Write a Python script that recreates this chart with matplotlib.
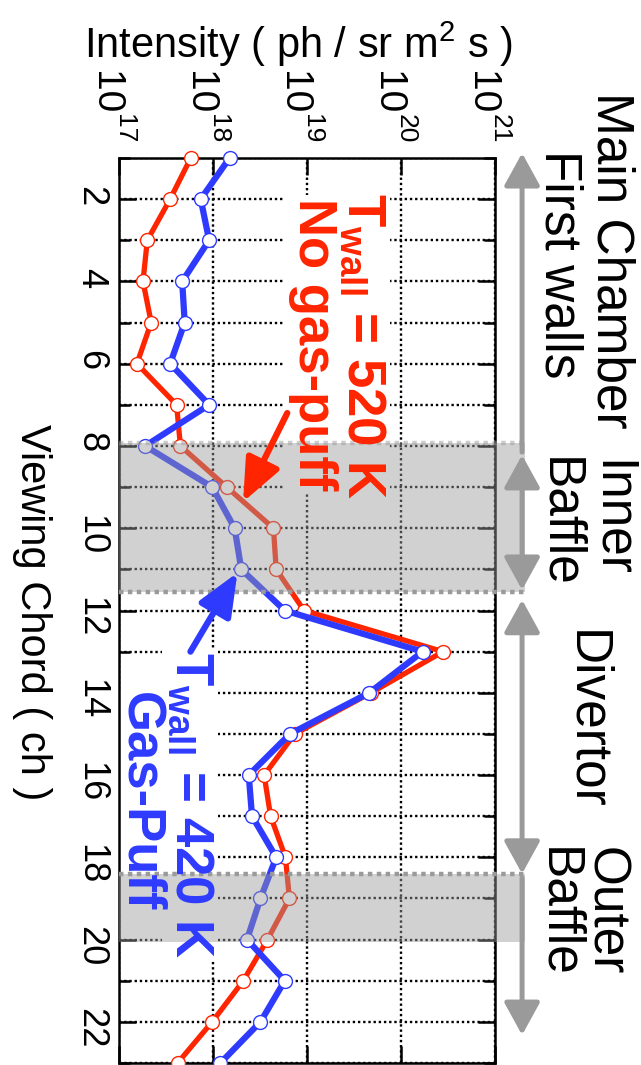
import numpy as np
import matplotlib
matplotlib.use("Agg")
import matplotlib.pyplot as plt
from matplotlib.patches import Rectangle
from matplotlib.ticker import NullLocator, NullFormatter
from matplotlib import font_manager

plt.rcParams['font.family'] = ['Liberation Sans', 'DejaVu Sans']
plt.rcParams['mathtext.fontset'] = 'custom'
plt.rcParams['mathtext.rm'] = 'Liberation Sans'
plt.rcParams['mathtext.bf'] = 'Liberation Sans:bold'
plt.rcParams['mathtext.it'] = 'Liberation Sans:italic'

# Viewing chord number and line intensity (ph / sr m^2 s)
chords = np.arange(1, 24)
i_520K = [5.8e17, 3.5e17, 2.0e17, 1.8e17, 2.2e17, 1.55e17, 4.1e17, 4.5e17,
          1.4e18, 4.4e18, 4.7e18, 9.3e18, 2.8e20, 4.8e19, 7.4e18, 3.5e18,
          4.1e18, 5.9e18, 6.5e18, 3.8e18, 2.1e18, 9.8e17, 4.2e17]
i_420K = [1.5e18, 7.4e17, 9.1e17, 4.7e17, 5.0e17, 3.5e17, 9.1e17, 1.9e17,
          9.8e17, 1.7e18, 2.0e18, 5.8e18, 1.7e20, 4.6e19, 6.6e18, 2.4e18,
          2.6e18, 4.7e18, 3.2e18, 2.3e18, 5.8e18, 3.2e18, 1.2e18]
exponents = [17, 18, 19, 20, 21]

inner_baffle = (7.92, 11.55)
outer_baffle = (18.4, 20.07)

red = '#ff2500'
blue = '#2e3bff'
grey = '#9a9a9a'

fig = plt.figure(figsize=(6.41, 10.65), dpi=100)
W, H = 641, 1065
ax = fig.add_axes([119/W, 1-1063/H, (495-119)/W, (1063-158)/H])

ax.plot(i_520K, chords, '-o', color=red, lw=3.8, ms=10, mfc='white', mec=red, mew=1.0, zorder=3, clip_on=False)
ax.plot(i_420K, chords, '-o', color=blue, lw=4.5, ms=10, mfc='white', mec=blue, mew=1.0, zorder=4, clip_on=False)

ax.set_xscale('log')
ax.set_xlim(1e17, 1e21)
ax.set_ylim(23, 1)
ax.set_xticks([10.0**e for e in exponents])
ax.xaxis.set_minor_locator(NullLocator())
ax.xaxis.set_major_formatter(NullFormatter())
ax.set_yticks(range(2, 23, 2))
ax.set_yticks(range(1, 24, 2), minor=True)

ax.xaxis.set_ticks_position('both')
ax.yaxis.set_ticks_position('both')
ax.tick_params(axis='x', which='major', direction='in', length=12, width=1.8)
ax.tick_params(axis='y', which='major', direction='in', length=12, width=1.8,
               labelrotation=-90, labelsize=26, pad=8)
ax.tick_params(axis='y', which='minor', direction='in', length=8, width=1.8)
ax.grid(axis='x', which='major', color='black', lw=1.7, ls=(0, (1, 1.2)))
ax.grid(axis='y', which='both', color='black', lw=1.7, ls=(0, (1, 1.2)))
for s in ax.spines.values():
    s.set_linewidth(1.8)

# top tick labels: rotated 10 with exponent
xtr = ax.get_xaxis_transform()
for e in exponents:
    ax.annotate('10', xy=(10.0**e, 1), xycoords=xtr, xytext=(-17, 31.5),
                textcoords='offset points', rotation=-90, rotation_mode='anchor',
                ha='right', va='baseline', fontsize=28, annotation_clip=False)
    ax.annotate(str(e), xy=(10.0**e, 1), xycoords=xtr, xytext=(-1.5, 31.5),
                textcoords='offset points', rotation=-90, rotation_mode='anchor',
                ha='left', va='baseline', fontsize=19, annotation_clip=False)

# shaded baffle regions
tr = ax.get_yaxis_transform()
for lo, hi in [inner_baffle, outer_baffle]:
    ax.add_patch(Rectangle((0, lo), 1.08, hi - lo, transform=tr, fc=grey, alpha=0.45,
                           ec='none', zorder=6, clip_on=False))
ax.plot([0, 1.08], [inner_baffle[0]] * 2, transform=tr, color=grey, alpha=0.5, lw=3.2,
        ls=(0, (1, 1)), clip_on=False, zorder=7)
ax.plot([0, 1.08], [inner_baffle[1]] * 2, transform=tr, color=grey, lw=3.2,
        ls=(0, (1, 1)), clip_on=False, zorder=7)
ax.plot([0, 1.08], [outer_baffle[0]] * 2, transform=tr, color=grey, lw=3.2,
        ls=(0, (1, 1)), clip_on=False, zorder=7)

# region arrows on the right
arr_x = 1.072
for y0, y1, style in [(8.15, 0.88, '-|>'), (8.22, 11.5, '<|-|>'),
                      (11.74, 18.4, '<|-|>'), (18.5, 22.32, '-|>')]:
    ax.annotate('', xy=(arr_x, y1), xytext=(arr_x, y0), xycoords=tr,
                arrowprops=dict(arrowstyle=style + ',head_length=1.0,head_width=0.55',
                                mutation_scale=20, lw=3.6, color=grey,
                                shrinkA=0, shrinkB=0), annotation_clip=False)

# annotations
def label(x, y, s, c, size=38):
    kw = dict(rotation=-90, ha='center', va='top', fontsize=size, fontweight='bold')
    ax.text(x, y, s, color='none', zorder=1.8,
            bbox=dict(fc='white', ec='none', pad=2), **kw)
    ax.text(x, y, s, color=c, zorder=9, **kw)

label(10**19.585, 1.85, r'$\mathbf{T_{wall}}$ = 520 K', red)
label(10**19.06, 1.97, 'No gas-puff', red)
label(10**17.755, 13.0, r'$\mathbf{T_{wall}}$ = 420 K', blue)
label(10**17.23, 13.97, 'Gas-Puff', blue)

ax.annotate('', xy=(10**18.32, 9.36), xytext=(10**18.79, 7.2),
            arrowprops=dict(arrowstyle='-|>,head_length=1.3,head_width=0.55',
                            mutation_scale=20, lw=4.5, color=red, shrinkA=0, shrinkB=0),
            zorder=8)
ax.annotate('', xy=(10**18.26, 11.08), xytext=(10**17.76, 13.0),
            arrowprops=dict(arrowstyle='-|>,head_length=1.3,head_width=0.55',
                            mutation_scale=20, lw=4.5, color=blue, shrinkA=0, shrinkB=0),
            zorder=8)

# outer texts
def ftext(x, y, s, size, **kw):
    fig.text(x/W, 1-y/H, s, fontsize=size, **kw)

names = {f.name for f in font_manager.fontManager.ttflist}
if 'Liberation Sans Narrow' in names:
    ftext(298, 44, r'Intensity ( ph / sr m$^2$ s )', 36, ha='center', va='center',
          family='Liberation Sans Narrow')
else:
    ftext(298, 44, r'Intensity ( ph / sr m$^2$ s )', 30, ha='center', va='center')
ftext(32, 612, 'Viewing Chord ( ch )', 30, rotation=-90, ha='center', va='center')
ftext(611, 92, 'Main Chamber', 37, rotation=-90, ha='center', va='top')
ftext(559, 150, 'First walls', 37, rotation=-90, ha='center', va='top')
ftext(611, 460, 'Inner', 37, rotation=-90, ha='center', va='top')
ftext(559, 457, 'Baffle', 37, rotation=-90, ha='center', va='top')
ftext(586, 630, 'Divertor', 37, rotation=-90, ha='center', va='top')
ftext(605, 847, 'Outer', 37, rotation=-90, ha='center', va='top')
ftext(558, 847, 'Baffle', 37, rotation=-90, ha='center', va='top')

fig.savefig('out.png', dpi=100)
